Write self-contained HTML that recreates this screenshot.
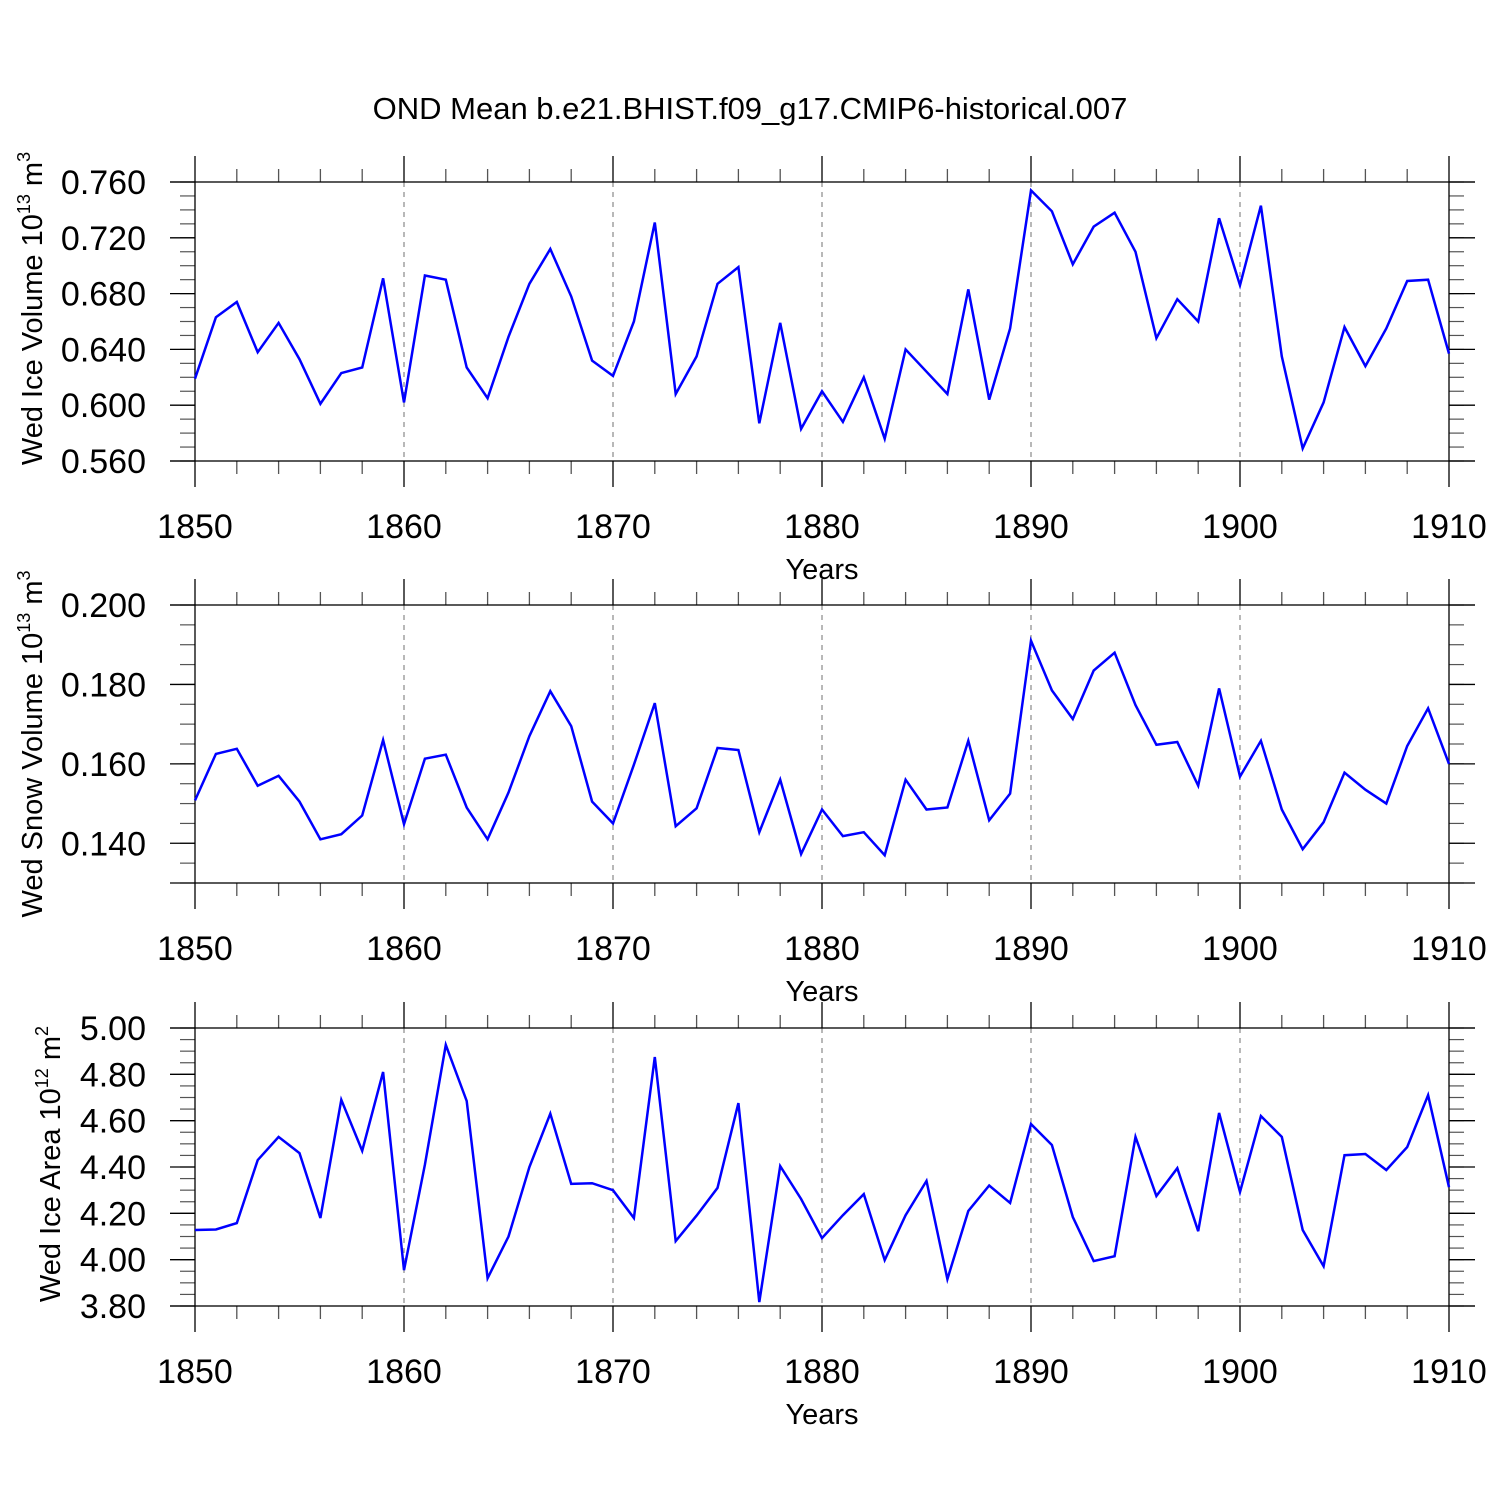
<!DOCTYPE html>
<html><head><meta charset="utf-8"><style>
html,body{margin:0;padding:0;background:#fff}
svg{display:block;font-family:"Liberation Sans",sans-serif}
</style></head><body>
<svg id="chart" width="1500" height="1500" viewBox="0 0 1500 1500" xmlns="http://www.w3.org/2000/svg">
<rect width="1500" height="1500" fill="#fff"/>
<text x="750" y="119" font-size="31" text-anchor="middle">OND Mean b.e21.BHIST.f09_g17.CMIP6-historical.007</text>
</svg>
<script>
const years = [];
for (let y = 1850; y <= 1910; y++) years.push(y);
const iceVolume = [0.619,0.663,0.674,0.638,0.659,0.633,0.601,0.623,0.627,0.691,0.602,0.693,0.690,0.627,0.605,0.649,0.687,0.712,0.678,0.632,0.621,0.660,0.731,0.608,0.635,0.687,0.699,0.587,0.659,0.583,0.610,0.588,0.620,0.576,0.640,0.624,0.608,0.683,0.604,0.655,0.754,0.739,0.701,0.728,0.738,0.710,0.648,0.676,0.660,0.734,0.686,0.743,0.635,0.569,0.602,0.656,0.628,0.655,0.689,0.690,0.637];
const snowVolume = [0.1508,0.1625,0.1638,0.1545,0.157,0.1505,0.141,0.1423,0.147,0.166,0.1448,0.1613,0.1623,0.149,0.141,0.1528,0.167,0.1783,0.1695,0.1505,0.145,0.1598,0.1753,0.1443,0.1488,0.164,0.1635,0.1428,0.156,0.1373,0.1485,0.1418,0.1428,0.137,0.156,0.1485,0.149,0.1658,0.1458,0.1525,0.191,0.1785,0.1713,0.1835,0.188,0.1748,0.1648,0.1655,0.1545,0.179,0.1568,0.1658,0.1485,0.1385,0.1453,0.1578,0.1535,0.150,0.1645,0.174,0.160];
const iceArea = [4.128,4.13,4.158,4.43,4.53,4.46,4.18,4.69,4.47,4.81,3.955,4.41,4.927,4.685,3.92,4.10,4.40,4.63,4.327,4.33,4.30,4.18,4.875,4.08,4.19,4.31,4.676,3.817,4.404,4.262,4.093,4.192,4.283,3.998,4.192,4.34,3.916,4.21,4.32,4.245,4.585,4.495,4.184,3.994,4.015,4.53,4.275,4.395,4.123,4.633,4.292,4.62,4.53,4.128,3.972,4.451,4.456,4.387,4.486,4.71,4.313];
const xTickLabels = ["1850","1860","1870","1880","1890","1900","1910"];
const iceVolTicks = ["0.560","0.600","0.640","0.680","0.720","0.760"];
const snowVolTicks = ["0.140","0.160","0.180","0.200"];
const iceAreaTicks = ["3.80","4.00","4.20","4.40","4.60","4.80","5.00"];

const NS = "http://www.w3.org/2000/svg";
const svg = document.getElementById('chart');
function mk(tag, attrs, parent) {
  const e = document.createElementNS(NS, tag);
  for (const k in attrs) e.setAttribute(k, attrs[k]);
  (parent || svg).appendChild(e);
  return e;
}
const X0 = 195, X1 = 1449;
const xs = v => X0 + (v - 1850) / 60 * (X1 - X0);

function panel(cfg) {
  const g = mk('g', {});
  
  
  const ys = v => cfg.bot - (v - cfg.min) / (cfg.max - cfg.min) * (cfg.bot - cfg.top);
  for (let yr = 1860; yr <= 1900; yr += 10) {
    const l = mk('line', {x1: xs(yr), x2: xs(yr), y1: cfg.top, y2: cfg.bot, stroke: '#888', 'stroke-width': 1.2, 'stroke-dasharray': '5,5'}, g);
    
    
  }
  for (let yr = 1850; yr <= 1910; yr += 2) {
    const major = yr % 10 === 0;
    const len = major ? 26 : 13;
    const c = major ? '#000' : '#555';
    mk('line', {x1: xs(yr), x2: xs(yr), y1: cfg.top, y2: cfg.top - len, stroke: c, 'stroke-width': 1.3}, g);
    mk('line', {x1: xs(yr), x2: xs(yr), y1: cfg.bot, y2: cfg.bot + len, stroke: c, 'stroke-width': 1.3}, g);
  }
  xTickLabels.forEach(t => {
    const tx = mk('text', {x: xs(+t), y: cfg.bot + 77, 'font-size': 34, 'text-anchor': 'middle'}, g);
    
    
    tx.textContent = t;
  });
  const xt = mk('text', {x: 822, y: cfg.bot + 118, 'font-size': 29, 'text-anchor': 'middle'}, g);
  
  
  xt.textContent = 'Years';
  const n = Math.round((cfg.max - cfg.min) / cfg.minor);
  for (let i = 0; i <= n; i++) {
    const v = cfg.min + i * cfg.minor;
    const y = ys(v);
    mk('line', {x1: X0, x2: X0 - 15, y1: y, y2: y, stroke: '#555', 'stroke-width': 1.2}, g);
    mk('line', {x1: X1, x2: X1 + 15, y1: y, y2: y, stroke: '#555', 'stroke-width': 1.2}, g);
  }
  cfg.ticks.forEach(t => {
    const y = ys(+t);
    mk('line', {x1: X0 - 25, x2: X0, y1: y, y2: y, stroke: '#000', 'stroke-width': 1.3}, g);
    mk('line', {x1: X1, x2: X1 + 26, y1: y, y2: y, stroke: '#000', 'stroke-width': 1.3}, g);
    const tx = mk('text', {x: 146, y: y + 12, 'font-size': 34, 'text-anchor': 'end'}, g);
    
    
    tx.textContent = t;
  });
  const fr = mk('rect', {x: X0, y: cfg.top, width: X1 - X0, height: cfg.bot - cfg.top, fill: 'none', stroke: '#000', 'stroke-width': 1.3}, g);
  
  
  mk('line', {x1: X0 - 25, x2: X0, y1: cfg.top, y2: cfg.top, stroke: '#000', 'stroke-width': 1.3}, g);
  mk('line', {x1: X1, x2: X1 + 26, y1: cfg.top, y2: cfg.top, stroke: '#000', 'stroke-width': 1.3}, g);
  mk('line', {x1: X0 - 25, x2: X0, y1: cfg.bot, y2: cfg.bot, stroke: '#000', 'stroke-width': 1.3}, g);
  mk('line', {x1: X1, x2: X1 + 26, y1: cfg.bot, y2: cfg.bot, stroke: '#000', 'stroke-width': 1.3}, g);
  const pts = cfg.data.map((v, i) => xs(years[i]).toFixed(1) + ',' + ys(v).toFixed(1)).join(' ');
  const pl = mk('polyline', {points: pts, fill: 'none', stroke: '#0000ff', 'stroke-width': 2.5, 'stroke-linejoin': 'miter'}, g);
  
  
  const cy = (cfg.top + cfg.bot) / 2;
  const yt = mk('text', {x: 0, y: 0, 'font-size': 29, 'text-anchor': 'middle', transform: `translate(${cfg.tx},${cy + cfg.dy}) rotate(-90)`}, g);
  
  
  yt.innerHTML = cfg.title + ' 10<tspan font-size="18" dy="-12">' + cfg.exp + '</tspan><tspan dy="12"> m</tspan><tspan font-size="18" dy="-12">' + cfg.unitExp + '</tspan>';
}
panel({name: 'ice-volume-panel', top: 182, bot: 461, min: 0.56, max: 0.76, minor: 0.01, ticks: iceVolTicks, data: iceVolume, title: 'Wed Ice Volume', exp: '13', unitExp: '3', tx: 42, dy: -13});
panel({name: 'snow-volume-panel', top: 605, bot: 883, min: 0.13, max: 0.20, minor: 0.005, ticks: snowVolTicks, data: snowVolume, title: 'Wed Snow Volume', exp: '13', unitExp: '3', tx: 42, dy: 0});
panel({name: 'ice-area-panel', top: 1028, bot: 1306, min: 3.8, max: 5.0, minor: 0.05, ticks: iceAreaTicks, data: iceArea, title: 'Wed Ice Area', exp: '12', unitExp: '2', tx: 60, dy: -3});
</script>
</body></html>
